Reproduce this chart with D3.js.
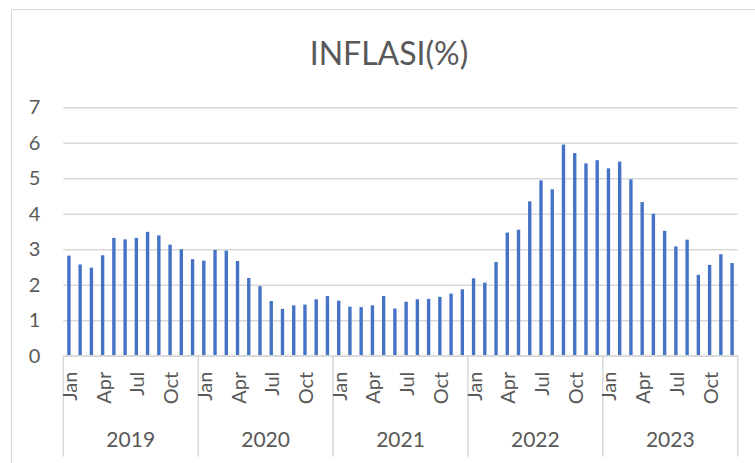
<!DOCTYPE html>
<html>
<head>
<meta charset="utf-8">
<script src="https://cdnjs.cloudflare.com/ajax/libs/d3/7.8.5/d3.min.js"></script>
<style>
  body { margin: 0; background: #fff; }
  text { font-family: Lato, "Open Sans", sans-serif; fill: #595959; }
</style>
</head>
<body>
<div id="chart"></div>
<script>
var years = ["2019", "2020", "2021", "2022", "2023"];
var months = ["Jan", "Feb", "Mar", "Apr", "May", "Jun", "Jul", "Aug", "Sep", "Oct", "Nov", "Dec"];
var shownMonths = ["Jan", "Apr", "Jul", "Oct"];
var yTicks = [0, 1, 2, 3, 4, 5, 6, 7];

// inflation, % year on year, one row per year
var inflasi2019 = [2.82, 2.57, 2.48, 2.83, 3.32, 3.28, 3.32, 3.49, 3.39, 3.13, 3.00, 2.72];
var inflasi2020 = [2.68, 2.98, 2.96, 2.67, 2.19, 1.96, 1.54, 1.32, 1.42, 1.44, 1.59, 1.68];
var inflasi2021 = [1.55, 1.38, 1.37, 1.42, 1.68, 1.33, 1.52, 1.59, 1.60, 1.66, 1.75, 1.87];
var inflasi2022 = [2.18, 2.06, 2.64, 3.47, 3.55, 4.35, 4.94, 4.69, 5.95, 5.71, 5.42, 5.51];
var inflasi2023 = [5.28, 5.47, 4.97, 4.33, 4.00, 3.52, 3.08, 3.27, 2.28, 2.56, 2.86, 2.61];

var series = [inflasi2019, inflasi2020, inflasi2021, inflasi2022, inflasi2023];

var data = [];
years.forEach(function(y, i) {
    months.forEach(function(m, j) {
        data.push({ key: y + "-" + m, year: y, month: m, value: series[i][j] });
    });
});

var svgWidth = 755;
var svgHeight = 463;

var margin = { top: 107.3, left: 63.3, right: 755 - 737.7, bottom: 463 - 355.7 };
var chartWidth = svgWidth - margin.left - margin.right;
var chartHeight = svgHeight - margin.top - margin.bottom;

var svg = d3.select("#chart")
    .append("svg")
    .attr("width", svgWidth)
    .attr("height", svgHeight);

// outer chart frame (right and bottom edges fall outside the picture)
svg.append("rect")
    .attr("x", 11.5)
    .attr("y", 9.5)
    .attr("width", 800)
    .attr("height", 500)
    .attr("fill", "none")
    .attr("stroke", "#d9d9d9")
    .attr("stroke-width", 1);

svg.append("text")
    .attr("x", 389)
    .attr("y", 65)
    .attr("text-anchor", "middle")
    .style("font-size", "32px")
    .text("INFLASI(%)");

var chartGroup = svg.append("g")
    .attr("transform", `translate(${margin.left},${margin.top})`);

var xScale = d3.scaleBand()
    .domain(data.map(d => d.key))
    .range([0, chartWidth])
    .paddingInner(0.7)
    .paddingOuter(0.35);

var yScale = d3.scaleLinear()
    .domain([0, 7])
    .range([chartHeight, 0]);

// gridlines + y labels
var leftAxis = d3.axisLeft(yScale)
    .tickValues(yTicks)
    .tickFormat(d3.format("d"))
    .tickSize(-chartWidth)
    .tickPadding(23);

var yAxis = chartGroup.append("g").call(leftAxis);
yAxis.select(".domain").remove();
yAxis.selectAll("line").attr("stroke", "#d9d9d9").attr("stroke-width", 1.5);
yAxis.selectAll("text")
    .style("font-size", "20px")
    .attr("fill", "#595959")
    .attr("font-family", "Lato, sans-serif");

chartGroup.selectAll("rect.bar")
    .data(data)
    .enter()
    .append("rect")
    .attr("class", "bar")
    .attr("x", d => xScale(d.key))
    .attr("y", d => yScale(d.value))
    .attr("width", xScale.bandwidth())
    .attr("height", d => chartHeight - yScale(d.value))
    .attr("fill", "#4472c4");

// category axis: month labels, year labels, year separators
var yearScale = d3.scaleBand()
    .domain(years)
    .range([0, chartWidth]);

var bottom = chartGroup.append("g")
    .attr("transform", `translate(0,${chartHeight})`);

bottom.append("line")
    .attr("x1", 0).attr("x2", chartWidth)
    .attr("y1", 0).attr("y2", 0)
    .attr("stroke", "#d9d9d9")
    .attr("stroke-width", 1.5);

var seps = years.map(y => yearScale(y)).concat([chartWidth]);
bottom.selectAll("line.sep")
    .data(seps)
    .enter()
    .append("line")
    .attr("class", "sep")
    .attr("x1", d => d).attr("x2", d => d)
    .attr("y1", 0).attr("y2", 101)
    .attr("stroke", "#d9d9d9")
    .attr("stroke-width", 1.5);

bottom.selectAll("text.month")
    .data(data.filter(d => shownMonths.indexOf(d.month) >= 0))
    .enter()
    .append("text")
    .attr("class", "month")
    .attr("transform", d => `translate(${xScale(d.key) + xScale.bandwidth() / 2 + 1},16) rotate(-90)`)
    .attr("text-anchor", "end")
    .attr("dy", "0.35em")
    .style("font-size", "20px")
    .text(d => d.month);

bottom.selectAll("text.year")
    .data(years)
    .enter()
    .append("text")
    .attr("class", "year")
    .attr("x", d => yearScale(d) + yearScale.bandwidth() / 2)
    .attr("y", 91.5)
    .attr("text-anchor", "middle")
    .style("font-size", "21px")
    .text(d => d);
</script>
</body>
</html>
